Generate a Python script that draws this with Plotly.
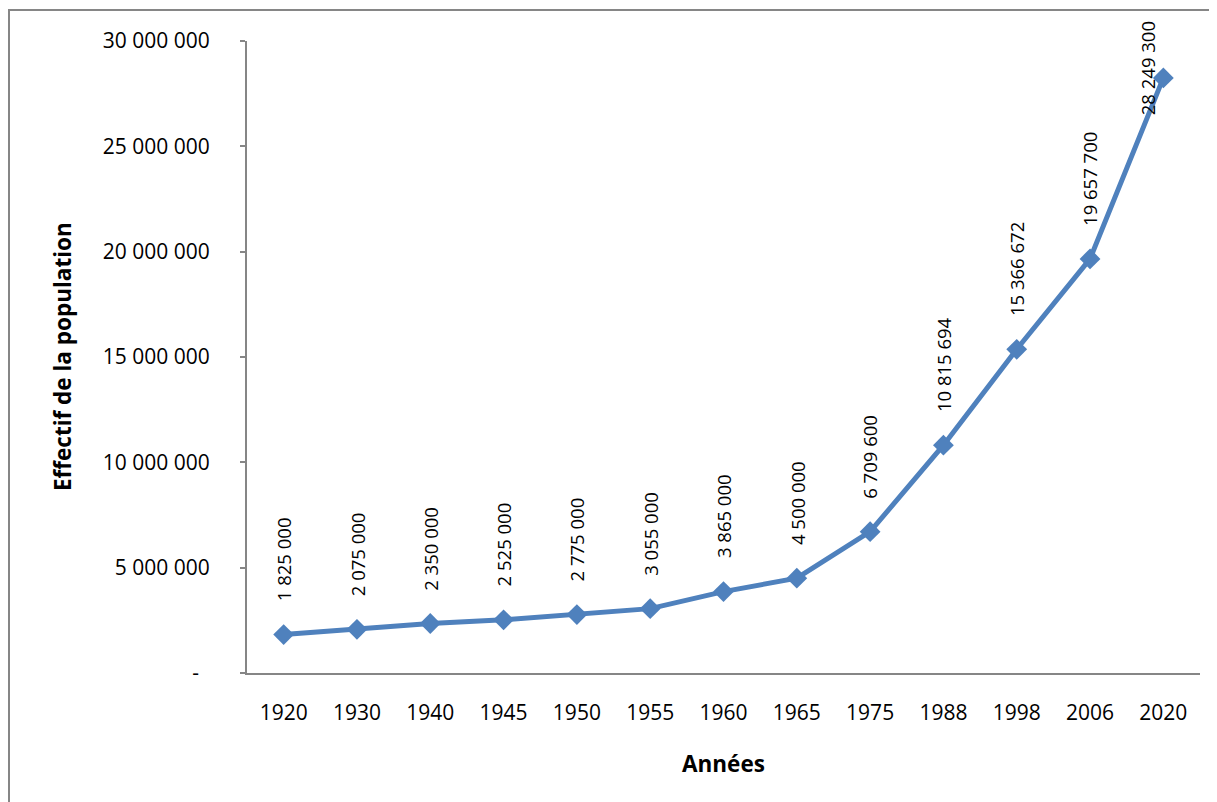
import plotly.graph_objects as go

years = ["1920", "1930", "1940", "1945", "1950", "1955", "1960", "1965",
         "1975", "1988", "1998", "2006", "2020"]
population = [1825000, 2075000, 2350000, 2525000, 2775000, 3055000, 3865000,
              4500000, 6709600, 10815694, 15366672, 19657700, 28249300]
y_ticks = [0, 5000000, 10000000, 15000000, 20000000, 25000000, 30000000]
y_ticktext = ["-\u00a0\u00a0", "5 000 000", "10 000 000", "15 000 000",
              "20 000 000", "25 000 000", "30 000 000"]

BLUE = "#4F81BD"
GREY = "#868686"
FONT = "Open Sans"

# page has an 8px body margin: work in figure coords shifted by it
OFF = 8


def fmt(v):
    return f"{v:,}".replace(",", " ")


fig = go.Figure()
fig.add_trace(go.Scatter(
    x=years, y=population, mode="lines+markers",
    line=dict(color=BLUE, width=5),
    marker=dict(symbol="diamond", size=16, color=BLUE),
    cliponaxis=False, showlegend=False, hoverinfo="x+y",
))

annotations = []
for i, v in enumerate(population):
    if i == len(population) - 1:
        annotations.append(dict(x=i, y=v, text=fmt(v), textangle=-90,
                                showarrow=False, xanchor="center", yanchor="middle",
                                xshift=-15, yshift=10,
                                font=dict(family=FONT, size=18.5, color="black")))
    else:
        annotations.append(dict(x=i, y=v, text=fmt(v), textangle=-90,
                                showarrow=False, xanchor="center", yanchor="bottom",
                                yshift=31,
                                font=dict(family=FONT, size=18.5, color="black")))

W, H = 1217 - OFF, 802 - OFF
L, T = 247 - OFF, 41 - OFF
R = 1217 - 1200
B = 802 - 673
pw, ph = W - L - R, H - T - B

annotations.append(dict(text="<b>Années</b>", xref="paper", yref="paper",
                        x=0.5, y=0, yshift=-90, xanchor="center", yanchor="middle",
                        showarrow=False, font=dict(family=FONT, size=22.5, color="black")))
annotations.append(dict(text="<b>Effectif de la population</b>", xref="paper", yref="paper",
                        x=0, y=0.5, xshift=-185, xanchor="center", yanchor="middle",
                        textangle=-90, showarrow=False,
                        font=dict(family=FONT, size=22.5, color="black")))


def px_to_paper_x(px):
    return (px - OFF - L) / pw


def px_to_paper_y(py):
    return (H - B - (py - OFF)) / ph


fig.update_layout(
    width=W, height=H,
    margin=dict(l=L, r=R, t=T, b=B),
    paper_bgcolor="white", plot_bgcolor="white",
    font=dict(family=FONT, size=20, color="black"),
    annotations=annotations,
    shapes=[dict(type="rect", xref="paper", yref="paper",
                 x0=px_to_paper_x(9), x1=px_to_paper_x(1230),
                 y0=px_to_paper_y(815), y1=px_to_paper_y(10),
                 line=dict(color=GREY, width=2), fillcolor="rgba(0,0,0,0)",
                 layer="below")],
    xaxis=dict(
        type="category", range=[-0.5, len(years) - 0.5],
        showline=True, linecolor=GREY, linewidth=2,
        ticks="", showgrid=False, zeroline=False,
        tickfont=dict(family=FONT, size=21, color="black"),
        ticklabelstandoff=20,
    ),
    yaxis=dict(
        range=[0, 30000000], tickvals=y_ticks, ticktext=y_ticktext,
        showline=True, linecolor=GREY, linewidth=2,
        ticks="outside", ticklen=5, tickwidth=2, tickcolor=GREY,
        showgrid=False, zeroline=False,
        tickfont=dict(family=FONT, size=21, color="black"),
        ticklabelstandoff=26,
    ),
)

fig.write_html("out.html")
